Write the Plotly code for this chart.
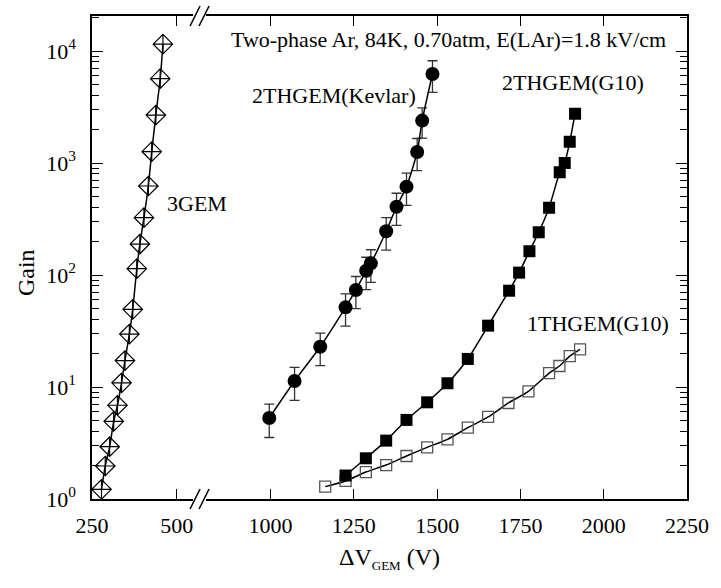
import plotly.graph_objects as go

# ---------------- data ----------------
gem3_v = [278, 289, 302, 314, 325, 337, 347, 360, 370, 382, 391, 403, 416, 426, 438, 451, 459]
gem3_g = [1.22, 1.97, 2.93, 4.94, 6.87, 10.9, 17.2, 29.7, 49.4, 114, 189, 325, 623, 1262, 2680, 5660, 11500]

kev_v = [996, 1072, 1149, 1225, 1256, 1287, 1301, 1347, 1378, 1408, 1440, 1455, 1486]
kev_g = [5.29, 11.3, 22.9, 51.4, 73.5, 109, 127, 246, 407, 615, 1254, 2390, 6230]
kev_err = [1.75, 3.7, 7.4, 16.5, 23.5, 35, 41, 79, 130, 197, 400, 720, 1950]

g10_2_v = [1225, 1286, 1347, 1408, 1470, 1531, 1592, 1653, 1716, 1746, 1777, 1805, 1836, 1868, 1883, 1898, 1914]
g10_2_g = [1.62, 2.31, 3.32, 5.08, 7.3, 10.8, 17.8, 35.3, 72.4, 105, 163, 241, 399, 826, 1000, 1550, 2755]

g10_1_v = [1164, 1225, 1286, 1347, 1408, 1470, 1531, 1592, 1653, 1714, 1774, 1836, 1867, 1898, 1929]
g10_1_g = [1.29, 1.45, 1.74, 2.01, 2.42, 2.89, 3.41, 4.33, 5.4, 7.2, 9.15, 13.3, 15.4, 18.9, 21.7]

x_left_ticks = [250, 500]
x_right_ticks = [1000, 1250, 1500, 1750, 2000, 2250]
y_major = [1, 10, 100, 1000, 10000]
y_labels = ["10<sup>0</sup>", "10<sup>1</sup>", "10<sup>2</sup>", "10<sup>3</sup>", "10<sup>4</sup>"]
y_minor = [m * d for d in [1, 10, 100, 1000, 10000] for m in range(2, 10)]

# ---------------- figure ----------------
FONT = "Liberation Serif, Times New Roman, Times, serif"
W, H = 721, 588
ML, MR, MT, MB = 92, 26, 16, 89
PW = W - ML - MR
PH = H - MT - MB
left_end = (194 - ML) / PW
right_start = (208 - ML) / PW

fig = go.Figure()

fig.add_trace(go.Scatter(
    x=gem3_v, y=gem3_g, xaxis="x", yaxis="y", mode="lines+markers",
    line=dict(color="black", width=1.5, shape="spline", smoothing=0.6),
    marker=dict(symbol="diamond-cross-open", size=15, color="black", line=dict(width=1.2)),
    showlegend=False, cliponaxis=False))

fig.add_trace(go.Scatter(
    x=kev_v, y=kev_g, xaxis="x2", yaxis="y2", mode="lines+markers",
    line=dict(color="black", width=1.5, shape="spline", smoothing=0.6),
    marker=dict(symbol="circle", size=14, color="black"),
    error_y=dict(type="data", array=kev_err, visible=True, color="#333333", thickness=1.3, width=5),
    showlegend=False))

fig.add_trace(go.Scatter(
    x=g10_1_v, y=g10_1_g, xaxis="x2", yaxis="y2", mode="lines+markers",
    line=dict(color="black", width=1.5, shape="spline", smoothing=0.6),
    marker=dict(symbol="square-open", size=11, color="#555555", line=dict(width=1.3)),
    showlegend=False, cliponaxis=False))

fig.add_trace(go.Scatter(
    x=g10_2_v, y=g10_2_g, xaxis="x2", yaxis="y2", mode="lines+markers",
    line=dict(color="black", width=1.5, shape="spline", smoothing=0.6),
    marker=dict(symbol="square", size=12, color="black"),
    showlegend=False))

tickfont = dict(family=FONT, size=22, color="black")
yr = [0, 4.3125]

common_x = dict(showline=True, linecolor="black", linewidth=1.5, ticks="inside", ticklen=10,
                tickwidth=1.3, tickcolor="black", mirror="ticks", showgrid=False, zeroline=False,
                tickfont=tickfont, tickmode="array", ticklabelstandoff=6)
fig.update_layout(
    width=W, height=H, margin=dict(l=ML, r=MR, t=MT, b=MB),
    paper_bgcolor="white", plot_bgcolor="white",
    font=dict(family=FONT, color="black"),
    xaxis=dict(domain=[0, left_end], range=[250, 546.5], tickvals=x_left_ticks,
               anchor="y", **common_x),
    xaxis2=dict(domain=[right_start, 1], range=[807.5, 2250], tickvals=x_right_ticks,
                anchor="y2", **common_x),
    yaxis=dict(type="log", range=yr, anchor="x", showline=True, linecolor="black", linewidth=1.5,
               ticks="inside", ticklen=11, tickwidth=1.3, tickcolor="black",
               tickmode="array", tickvals=y_major, ticktext=y_labels, tickfont=tickfont,
               minor=dict(tickmode="array", tickvals=y_minor, ticks="inside", ticklen=7,
                          tickwidth=1.1, tickcolor="black", showgrid=False),
               showgrid=False, zeroline=False, ticklabelstandoff=10),
    yaxis2=dict(type="log", range=yr, anchor="x2", side="right", showline=True, linecolor="black",
                linewidth=1.5, ticks="inside", ticklen=11, tickwidth=1.3, tickcolor="black",
                tickmode="array", tickvals=y_major, showticklabels=False,
                minor=dict(tickmode="array", tickvals=y_minor, ticks="inside", ticklen=7,
                           tickwidth=1.1, tickcolor="black", showgrid=False),
                showgrid=False, zeroline=False),
)

# axis break marks
gap_c = (201 - ML) / PW
for yanc in (0, 1):
    for dx in (-4.5, 4.5):
        fig.add_shape(type="line", xref="paper", yref="paper",
                      xsizemode="pixel", xanchor=gap_c, x0=dx - 5, x1=dx + 5,
                      ysizemode="pixel", yanchor=yanc, y0=-10, y1=10,
                      line=dict(color="black", width=1.5))

def px(x):
    return (x - ML) / PW
def py(y):
    return (H - MB - y) / PH

txt = dict(family=FONT, size=22, color="black")
anns = [
    ("Two-phase Ar, 84K, 0.70atm, E(LAr)=1.8 kV/cm", 231, 40),
    ("2THGEM(Kevlar)", 252, 95),
    ("2THGEM(G10)", 505, 82),
    ("3GEM", 166, 203),
    ("1THGEM(G10)", 531, 323),
]
for t, x, y in anns:
    fig.add_annotation(text=t, x=px(x), y=py(y), xref="paper", yref="paper",
                       xanchor="left", yanchor="middle", showarrow=False, font=txt)

fig.add_annotation(text="Gain", x=px(10), y=py(273), xref="paper", yref="paper",
                   textangle=-90, showarrow=False, font=dict(family=FONT, size=24, color="black"))
fig.add_annotation(text="ΔV<sub><span style='font-size:13px'>GEM</span></sub> (V)",
                   x=px(393), y=py(575), xref="paper", yref="paper",
                   showarrow=False, font=dict(family=FONT, size=24, color="black"))

fig.write_html("out.html")
